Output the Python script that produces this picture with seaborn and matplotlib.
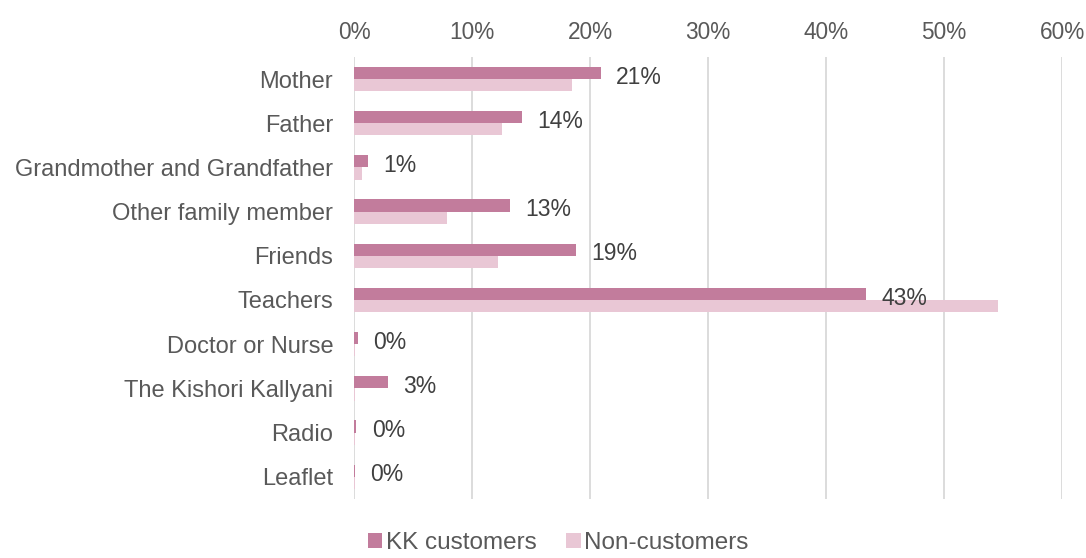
import matplotlib
matplotlib.use("Agg")
import matplotlib.pyplot as plt
import seaborn as sns
import pandas as pd

categories = ["Mother", "Father", "Grandmother and Grandfather", "Other family member",
              "Friends", "Teachers", "Doctor or Nurse", "The Kishori Kallyani",
              "Radio", "Leaflet"]
kk_customers = [20.9, 14.2, 1.2, 13.2, 18.8, 43.4, 0.35, 2.9, 0.2, 0.1]
non_customers = [18.5, 12.5, 0.7, 7.9, 12.2, 54.6, 0.1, 0.1, 0.05, 0.05]
series_names = ["KK customers", "Non-customers"]
x_ticks = [0, 10, 20, 30, 40, 50, 60]

df = pd.DataFrame({
    "source": categories * 2,
    "share": kk_customers + non_customers,
    "group": [series_names[0]] * len(categories) + [series_names[1]] * len(categories),
})

sns.set_theme(style="white")
plt.rcParams["font.family"] = ["Liberation Sans", "DejaVu Sans"]

fig = plt.figure(figsize=(10.86, 5.58), dpi=100)
ax = fig.add_axes([0.326, 0.106, 0.652, 0.792])

palette = {series_names[0]: "#C27C9C", series_names[1]: "#E9C7D5"}
sns.barplot(data=df, y="source", x="share", hue="group", order=categories,
            hue_order=series_names, palette=palette, orient="h", width=0.55,
            saturation=1, linewidth=0, ax=ax, legend=True)

ax.set_xlim(0, 60)
ax.set_ylim(len(categories) - 0.5, -0.5)
ax.set_xticks(x_ticks)
ax.set_xticklabels([f"{t}%" for t in x_ticks])
ax.xaxis.tick_top()
ax.tick_params(axis="x", length=0, labelsize=16.3, colors="#595959", pad=9)
ax.tick_params(axis="y", length=0, labelsize=17, colors="#595959", pad=15)
ax.set_xlabel("")
ax.set_ylabel("")
ax.grid(axis="x", color="#D9D9D9", linewidth=1.3)
ax.set_axisbelow(True)
for s in ax.spines.values():
    s.set_visible(False)

kk_bars = ax.containers[0]
value_labels = ax.bar_label(kk_bars, labels=[f"{round(v)}%" for v in kk_customers],
                            padding=11, fontsize=16.5, color="#404040")
for t in value_labels:
    t.xyann = (11, -3)

handles, labels = ax.get_legend_handles_labels()
ax.legend_.remove()
fig.legend(handles, labels, loc="lower center", bbox_to_anchor=(0.514, -0.032), ncol=2,
           frameon=False, fontsize=17.5, labelcolor="#595959", handlelength=0.6,
           handleheight=0.6, handletextpad=0.15, columnspacing=1.2)

fig.savefig("out.png", dpi=100)
